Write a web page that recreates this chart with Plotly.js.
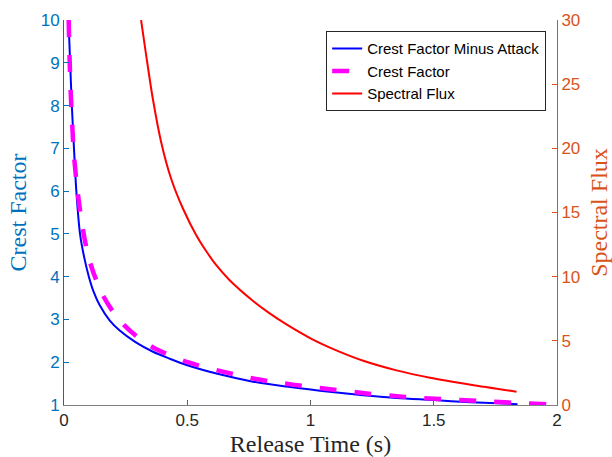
<!DOCTYPE html>
<html>
<head>
<meta charset="utf-8">
<script src="https://cdn.plot.ly/plotly-3.0.1.min.js"></script>
<style>html,body{margin:0;padding:0;background:#fff;}#chart{width:612px;height:457px;}</style>
</head>
<body>
<div id="chart"></div>
<script>
// Crest Factor Minus Attack (left axis)
const cfmaX = [0.0183, 0.025, 0.0318, 0.0405, 0.0500, 0.0650, 0.082, 0.1008, 0.12, 0.145, 0.185, 0.226, 0.29, 0.361, 0.43, 0.497, 0.631, 0.767, 0.903, 1.038, 1.214, 1.35, 1.485, 1.65, 1.84];
const cfmaY = [10.0, 9.0, 8.0, 7.0, 6.0, 5.0, 4.45, 4.0, 3.65, 3.33, 2.98, 2.74, 2.47, 2.245, 2.08, 1.935, 1.717, 1.545, 1.43, 1.335, 1.23, 1.165, 1.12, 1.065, 1.02];
// Crest Factor (left axis)
const cfX = [0.019, 0.0215, 0.0256, 0.0324, 0.0405, 0.0553, 0.0756, 0.09, 0.107, 0.13, 0.161, 0.2, 0.245, 0.30, 0.369, 0.502, 0.644, 0.786, 0.935, 1.079, 1.228, 1.383, 1.525, 1.674, 1.816, 1.96, 2.0];
const cfY = [10.0, 9.38, 8.55, 7.66, 6.84, 5.98, 5.14, 4.7, 4.31, 3.93, 3.53, 3.17, 2.86, 2.58, 2.32, 2.0, 1.78, 1.60, 1.47, 1.37, 1.27, 1.19, 1.14, 1.10, 1.055, 1.015, 1.003];
// Spectral Flux (right axis)
const sfX = [0.3126, 0.333, 0.360, 0.394, 0.434, 0.482, 0.536, 0.58, 0.617, 0.671, 0.766, 0.83, 0.901, 1.0, 1.1, 1.214, 1.349, 1.485, 1.65, 1.836];
const sfY = [30.0, 27.3, 23.9, 20.5, 17.67, 15.33, 13.25, 11.9, 10.91, 9.74, 8.12, 7.2, 6.3, 5.2, 4.3, 3.45, 2.7, 2.12, 1.58, 1.04];

const xTicks = [0, 0.5, 1, 1.5, 2];
const xTickText = ['0', '0.5', '1', '1.5', '2'];
const yTicks = [1, 2, 3, 4, 5, 6, 7, 8, 9, 10];
const y2Ticks = [0, 5, 10, 15, 20, 25, 30];

const sans = 'Liberation Sans, Arial, Helvetica, sans-serif';
const serif = 'Liberation Serif, DejaVu Serif, serif';
const blueAx = '#0072BD';
const orangeAx = '#D95319';

const traces = [
  {x: cfmaX, y: cfmaY, type: 'scatter', mode: 'lines', name: 'Crest Factor Minus Attack',
   line: {color: '#0000FF', width: 2, shape: 'spline', smoothing: 0.8}, yaxis: 'y'},
  {x: cfX, y: cfY, type: 'scatter', mode: 'lines', name: 'Crest Factor',
   line: {color: '#FF00FF', width: 4.5, dash: '17px,18px', shape: 'spline', smoothing: 0.8}, yaxis: 'y'},
  {x: sfX, y: sfY, type: 'scatter', mode: 'lines', name: 'Spectral Flux',
   line: {color: '#FF0000', width: 2, shape: 'spline', smoothing: 0.8}, yaxis: 'y2'}
];

const layout = {
  width: 612, height: 457,
  margin: {l: 64, r: 55, t: 20, b: 52},
  paper_bgcolor: '#fff', plot_bgcolor: '#fff',
  showlegend: true,
  legend: {x: 0.978, y: 0.971, xanchor: 'right', yanchor: 'top',
    bgcolor: '#fff', bordercolor: '#262626', borderwidth: 1,
    font: {family: sans, size: 15, color: '#000'}, tracegroupgap: 0},
  xaxis: {range: [0, 2], tickvals: xTicks, ticktext: xTickText, ticks: 'inside', ticklen: 5,
    tickcolor: '#606060', showline: true, linecolor: '#808080', linewidth: 1, zeroline: false,
    showgrid: false, tickfont: {family: sans, size: 17, color: '#262626'},
    title: {text: 'Release Time (s)', font: {family: serif, size: 24, color: '#262626'}, standoff: 5}},
  yaxis: {range: [1, 10], tickvals: yTicks, ticks: 'inside', ticklen: 5, tickcolor: blueAx,
    showline: true, linecolor: blueAx, linewidth: 1, zeroline: false, showgrid: false,
    tickfont: {family: sans, size: 17, color: blueAx},
    title: {text: 'Crest Factor', font: {family: serif, size: 24, color: blueAx}, standoff: 7}},
  yaxis2: {range: [0, 30], tickvals: y2Ticks, ticks: 'inside', ticklen: 5, tickcolor: orangeAx,
    overlaying: 'y', side: 'right', anchor: 'x',
    showline: true, linecolor: orangeAx, linewidth: 1, zeroline: false, showgrid: false,
    tickfont: {family: sans, size: 17, color: orangeAx},
    title: {text: 'Spectral Flux', font: {family: serif, size: 24, color: orangeAx}, standoff: 10}}
};

Plotly.newPlot('chart', traces, layout, {displayModeBar: false, staticPlot: true});
</script>
</body>
</html>
